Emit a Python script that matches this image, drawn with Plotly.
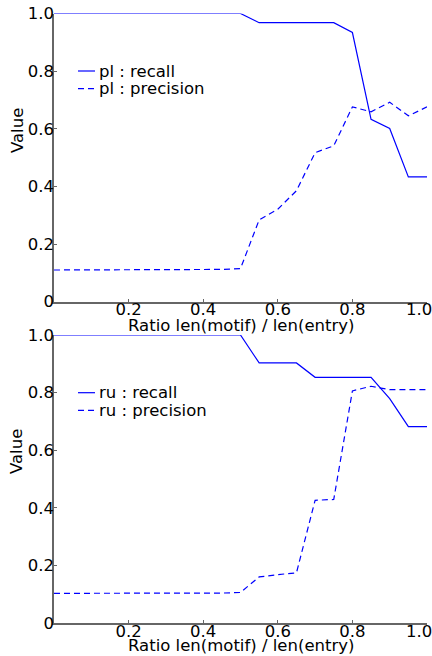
import plotly.graph_objects as go

ratio = [0.0, 0.05, 0.10, 0.15, 0.20, 0.25, 0.30, 0.35, 0.40, 0.45, 0.50,
         0.55, 0.60, 0.65, 0.70, 0.75, 0.80, 0.85, 0.90, 0.95, 1.00]

pl_recall = [1.0, 1.0, 1.0, 1.0, 1.0, 1.0, 1.0, 1.0, 1.0, 1.0, 1.0,
             0.968, 0.968, 0.968, 0.968, 0.968, 0.934, 0.633, 0.601, 0.433, 0.433]
pl_precision = [0.110, 0.110, 0.110, 0.110, 0.110, 0.110, 0.110, 0.110, 0.110, 0.112, 0.115,
                0.284, 0.321, 0.385, 0.517, 0.541, 0.676, 0.659, 0.692, 0.645, 0.676]

ru_recall = [1.0, 1.0, 1.0, 1.0, 1.0, 1.0, 1.0, 1.0, 1.0, 1.0, 1.0,
             0.903, 0.903, 0.903, 0.853, 0.853, 0.853, 0.853, 0.779, 0.682, 0.682]
ru_precision = [0.103, 0.103, 0.103, 0.103, 0.103, 0.103, 0.103, 0.103, 0.103, 0.104, 0.106,
                0.160, 0.168, 0.174, 0.426, 0.429, 0.806, 0.822, 0.810, 0.810, 0.810]

x_tickvals = [0.2, 0.4, 0.6, 0.8, 1.0]
x_ticktext = ["0.2", "0.4", "0.6", "0.8", "1.0"]
y_tickvals = [0, 0.2, 0.4, 0.6, 0.8, 1.0]
y_ticktext = ["0", "0.2", "0.4", "0.6", "0.8", "1.0"]

x_label = "Ratio len(motif) / len(entry)"
y_label = "Value"

W, H = 432, 656
BLUE = "#0000ff"
SPINE = "#666666"
DASH = "6px,4px"
FONT = dict(family="DejaVu Sans", size=16.5, color="black")

# last x tick label is nudged left (as in the reference, where it hugs the right edge)
x_ticktext_disp = x_ticktext[:-1] + [x_ticktext[-1] + "\u00a0" * 3]

series = [
    ("pl : recall", pl_recall, "solid", "x", "y"),
    ("pl : precision", pl_precision, DASH, "x", "y"),
    ("ru : recall", ru_recall, "solid", "x2", "y2"),
    ("ru : precision", ru_precision, DASH, "x2", "y2"),
]

fig = go.Figure()
for name, vals, dash, xa, ya in series:
    fig.add_trace(go.Scatter(x=ratio, y=vals, mode="lines", name=name, showlegend=False,
                             line=dict(color=BLUE, width=1.2, dash=dash), xaxis=xa, yaxis=ya))

xl, xr = 54 / W, 427 / W
top_dom = [(H - 301.7) / H, (H - 13.5) / H]
bot_dom = [(H - 623) / H, (H - 335) / H]

xcommon = dict(range=[0, 1.0], tickvals=x_tickvals, ticktext=x_ticktext_disp, ticks="inside",
               ticklen=3, tickcolor=SPINE, showline=True, linecolor=SPINE, linewidth=1.5,
               showgrid=False, zeroline=False, tickfont=FONT, domain=[xl, xr],
               ticklabeloverflow="allow", ticklabelstandoff=-8, automargin=False)
ycommon = dict(range=[0, 1.0], tickvals=y_tickvals, ticktext=y_ticktext, ticks="inside",
               ticklen=3, tickcolor=SPINE, showline=True, linecolor=SPINE, linewidth=1.5,
               showgrid=False, zeroline=False, tickfont=FONT, ticklabelstandoff=-5,
               ticklabeloverflow="allow", automargin=False)

# legend keys (drawn as shapes + text, legend position in pixels)
legend_rows = [
    ("pl : recall", "solid", 71.0),
    ("pl : precision", DASH, 88.7),
    ("ru : recall", "solid", 392.7),
    ("ru : precision", DASH, 410.3),
]
shapes = []
annotations = []
for text, dash, ypx in legend_rows:
    yp = (H - ypx) / H
    shapes.append(dict(type="line", xref="paper", yref="paper", x0=78 / W, x1=95 / W,
                       y0=yp, y1=yp, line=dict(color=BLUE, width=1.2, dash=dash)))
    annotations.append(dict(text=text, x=97 / W, y=yp, xref="paper", yref="paper",
                            showarrow=False, font=FONT, xanchor="left", yanchor="middle"))

for ypx in (325, 645):
    annotations.append(dict(text=x_label, x=(xl + xr) / 2, y=(H - ypx) / H, xref="paper",
                            yref="paper", showarrow=False, font=FONT, xanchor="center",
                            yanchor="middle"))
for ypx in (131, 452):
    annotations.append(dict(text=y_label, x=17 / W, y=(H - ypx) / H, xref="paper", yref="paper",
                            showarrow=False, font=FONT, textangle=-90, xanchor="center",
                            yanchor="middle"))

fig.update_layout(
    width=W, height=H, margin=dict(l=0, r=0, t=0, b=0, autoexpand=False),
    paper_bgcolor="white", plot_bgcolor="white", font=FONT, showlegend=False,
    xaxis=dict(**xcommon, anchor="y"),
    yaxis=dict(**ycommon, domain=top_dom, anchor="x"),
    xaxis2=dict(**xcommon, anchor="y2"),
    yaxis2=dict(**ycommon, domain=bot_dom, anchor="x2"),
    shapes=shapes,
    annotations=annotations,
)

fig.write_html("out.html")
